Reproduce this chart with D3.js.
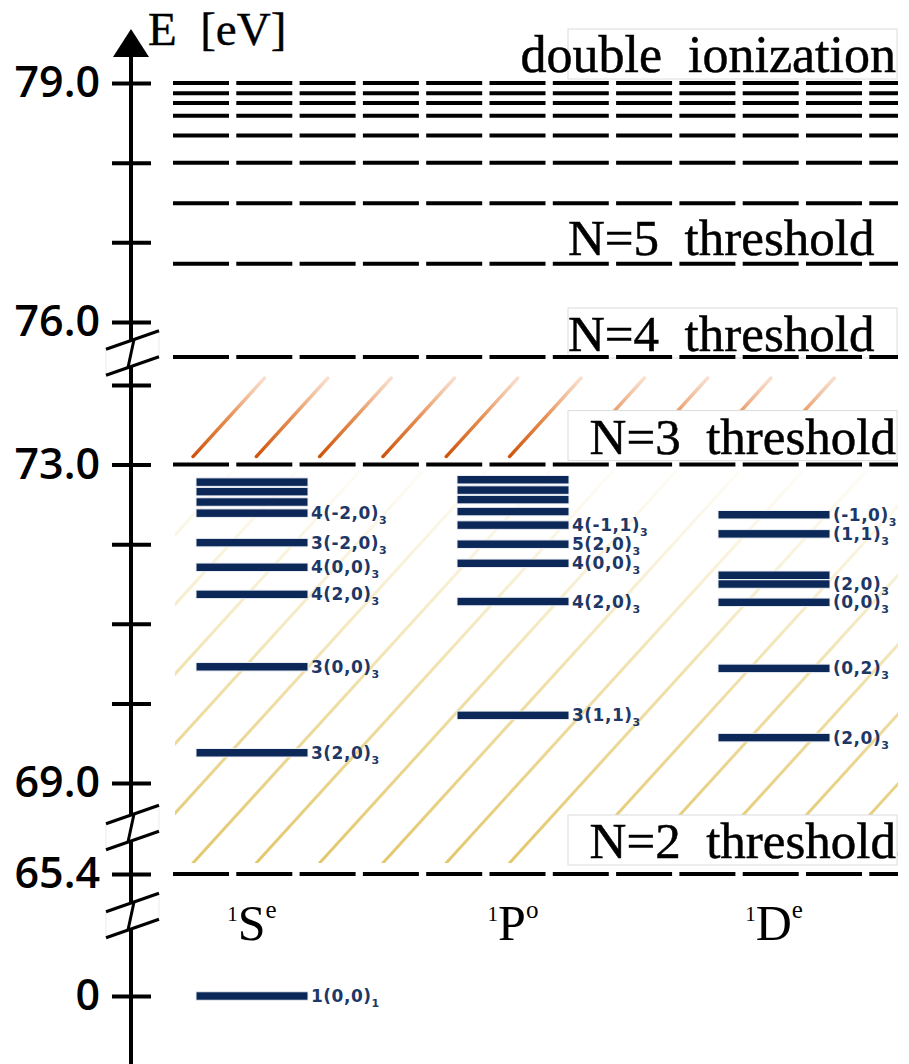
<!DOCTYPE html>
<html>
<head>
<meta charset="utf-8">
<script src="https://cdn.jsdelivr.net/npm/d3@7"></script>
<style>
  html, body { margin: 0; padding: 0; background: #ffffff; }
  svg { display: block; }
</style>
</head>
<body>
<svg id="chart" width="909" height="1064"></svg>
<script>
// ---- Data: doubly excited helium, energies in eV ----
const symmetryKeys = ["S", "P", "D"];
const termLetters  = ["S", "P", "D"];
const termParity   = ["e", "o", "e"];

// 1Se states
const energiesS = [0, 69.38, 70.46, 71.37, 71.71, 72.02, 72.39, 72.53, 72.66, 72.78];
const labelsS   = ["1(0,0)", "3(2,0)", "3(0,0)", "4(2,0)", "4(0,0)", "3(-2,0)", "4(-2,0)", "", "", ""];
const subsS     = ["1", "3", "3", "3", "3", "3", "3", "", "", ""];

// 1Po states
const energiesP = [69.85, 71.28, 71.76, 72.00, 72.24, 72.41, 72.56, 72.68, 72.81];
const labelsP   = ["3(1,1)", "4(2,0)", "4(0,0)", "5(2,0)", "4(-1,1)", "", "", "", ""];
const subsP     = ["3", "3", "3", "3", "3", "", "", "", ""];

// 1De states
const energiesD = [69.57, 70.44, 71.27, 71.50, 71.61, 72.13, 72.37];
const labelsD   = ["(2,0)", "(0,2)", "(0,0)", "(2,0)", "", "(1,1)", "(-1,0)"];
const subsD     = ["3", "3", "3", "3", "", "3", "3"];

// He+ (N) thresholds and the levels converging on double ionization
const thresholdEnergies = [65.4, 73.0, 75.6, 76.73, 77.49, 78.0, 78.34, 78.59, 78.75, 78.87, 79.0];
const thresholdNames    = ["N=2\u00A0\u00A0threshold", "N=3\u00A0\u00A0threshold", "N=4\u00A0\u00A0threshold",
                           "N=5\u00A0\u00A0threshold", "double\u00A0\u00A0ionization"];
const thresholdNameEnergies = [65.4, 73.0, 75.6, 76.73, 79.0];

// Energy axis
const tickValues  = [0, 65.4, 69, 70, 71, 72, 73, 74, 76, 77, 78, 79];
const tickLabels  = ["0", "65.4", "69.0", "", "", "", "73.0", "", "76.0", "", "", "79.0"];

// ---- Layout ----
const svg = d3.select("#chart");
const axisX = 131;

// Broken energy axis: piecewise-linear scale
const y = d3.scaleLinear()
  .domain([0, 65.4, 69, 74, 75.6, 76, 79])
  .range([996, 874, 783, 385, 357, 322, 83]);

const x = d3.scalePoint().domain(symmetryKeys).range([252, 774]);
const barWidth = 112;

const lineLeft = 173, lineRight = 898;

// ---- Gradients and clips for the continuum hatching ----
const defs = svg.append("defs");

const yellowBottom = y(65.4) - 11, yellowTop = y(73.0) + 6;
const orangeBottom = y(73.0) - 8,  orangeTop = y(75.6) + 21;

const gy = defs.append("linearGradient").attr("id", "gradYellow")
  .attr("gradientUnits", "userSpaceOnUse")
  .attr("x1", 0).attr("y1", yellowBottom).attr("x2", 0).attr("y2", yellowTop);
gy.append("stop").attr("offset", 0).attr("stop-color", "#e2c464").attr("stop-opacity", 0.95);
gy.append("stop").attr("offset", 0.5).attr("stop-color", "#e9d283").attr("stop-opacity", 0.65);
gy.append("stop").attr("offset", 1).attr("stop-color", "#f2e4ae").attr("stop-opacity", 0.12);

const go = defs.append("linearGradient").attr("id", "gradOrange")
  .attr("gradientUnits", "userSpaceOnUse")
  .attr("x1", 0).attr("y1", orangeBottom).attr("x2", 0).attr("y2", orangeTop);
go.append("stop").attr("offset", 0).attr("stop-color", "#d0520a").attr("stop-opacity", 1);
go.append("stop").attr("offset", 0.5).attr("stop-color", "#e3823f").attr("stop-opacity", 0.9);
go.append("stop").attr("offset", 1).attr("stop-color", "#f3c5a5").attr("stop-opacity", 0.55);

defs.append("clipPath").attr("id", "clipYellow").append("rect")
  .attr("x", 175).attr("y", yellowTop).attr("width", lineRight - 175).attr("height", yellowBottom - yellowTop);
defs.append("clipPath").attr("id", "clipOrange").append("rect")
  .attr("x", 190).attr("y", orangeTop - 2).attr("width", lineRight - 190).attr("height", orangeBottom - orangeTop + 4);

const hatchStep = 63.3, hatchSlant = 0.91, hatchStart = 193;

function hatch(ks, yb, yt, grad, clip, width) {
  svg.append("g").attr("clip-path", `url(#${clip})`)
    .selectAll("line").data(ks).join("line")
    .attr("x1", k => hatchStart + k * hatchStep)
    .attr("y1", yb)
    .attr("x2", k => hatchStart + k * hatchStep + hatchSlant * (yb - yt))
    .attr("y2", yt)
    .attr("stroke", `url(#${grad})`)
    .attr("stroke-width", width)
    .attr("stroke-linecap", "round");
}
hatch(d3.range(-7, 12), yellowBottom, yellowTop, "gradYellow", "clipYellow", 3);
hatch(d3.range(0, 10), orangeBottom, orangeTop, "gradOrange", "clipOrange", 3.4);

// ---- Threshold labels (white boxes) ----
const serif = "'Liberation Serif', 'Times New Roman', serif";
const nameLayout = [
  { anchor: "end",   x: 896, dy: -16, box: true },
  { anchor: "end",   x: 896, dy: -11, box: true },
  { anchor: "start", x: 568, dy: -6,  box: true },
  { anchor: "start", x: 568, dy: -9,  box: false },
  { anchor: "end",   x: 896, dy: -11, box: true }
];

const nameG = svg.append("g");
thresholdNames.forEach((t, i) => {
  const L = nameLayout[i];
  const base = y(thresholdNameEnergies[i]) + L.dy;
  if (L.box) {
    nameG.append("rect")
      .attr("x", 568).attr("y", base - 43).attr("width", 329).attr("height", 50)
      .attr("fill", "#ffffff").attr("stroke", "#dcdcdc").attr("stroke-width", 1);
  }
  nameG.append("text")
    .attr("x", L.x).attr("y", base)
    .attr("text-anchor", L.anchor)
    .attr("font-family", serif)
    .attr("font-size", i === 4 ? 52 : 51)
    .attr("fill", "#000").attr("stroke", "#000").attr("stroke-width", 0.5)
    .text(t);
});

// ---- Dashed threshold lines ----
svg.append("g").selectAll("line").data(thresholdEnergies).join("line")
  .attr("x1", lineLeft).attr("x2", lineRight)
  .attr("y1", d => y(d)).attr("y2", d => y(d))
  .attr("stroke", "#000").attr("stroke-width", 4)
  .attr("stroke-dasharray", "56,7.3");

// ---- Energy axis ----
const axisG = svg.append("g").attr("transform", `translate(${axisX},0)`);
axisG.append("line").attr("x1", 0).attr("x2", 0).attr("y1", 55).attr("y2", 1064)
  .attr("stroke", "#000").attr("stroke-width", 4);
axisG.append("path").attr("d", "M0,29 L-18,57 L18,57 Z").attr("fill", "#000");

const yAxis = d3.axisLeft(y)
  .tickValues(tickValues)
  .tickSizeInner(19).tickSizeOuter(0).tickPadding(12)
  .tickFormat((d, i) => tickLabels[i]);
const ax = axisG.append("g").call(yAxis);
ax.select(".domain").remove();
ax.selectAll(".tick line").attr("x1", 20).attr("stroke", "#000").attr("stroke-width", 4);
ax.selectAll(".tick text")
  .attr("font-family", "'Open Sans', 'DejaVu Sans', sans-serif")
  .attr("font-weight", 600)
  .attr("font-size", 43).attr("fill", "#000");

// Axis breaks
const breakCenters = [(y(74) + y(76)) / 2, y(65.4) - 46, y(65.4) + 42];
const slant = 0.35, half = 13, bx0 = 106, bx1 = 159;
const brkY = (c, xx, s) => c + s * half - slant * (xx - axisX);
breakCenters.forEach(c => {
  const g = svg.append("g");
  g.append("path")
    .attr("d", `M${bx0},${brkY(c, bx0, -1)} L${bx1},${brkY(c, bx1, -1)} L${bx1},${brkY(c, bx1, 1)} L${bx0},${brkY(c, bx0, 1)} Z`)
    .attr("fill", "#fff").attr("stroke", "#e6e6e6").attr("stroke-width", 0.8);
  [-1, 1].forEach(s => {
    g.append("line")
      .attr("x1", bx0).attr("y1", brkY(c, bx0, s))
      .attr("x2", bx1).attr("y2", brkY(c, bx1, s))
      .attr("stroke", "#000").attr("stroke-width", 3.2);
  });
  g.append("line")
    .attr("x1", axisX + 3).attr("y1", brkY(c, axisX + 3, -1))
    .attr("x2", axisX - 3).attr("y2", brkY(c, axisX - 3, 1))
    .attr("stroke", "#000").attr("stroke-width", 3);
});

// "E [eV]"
svg.append("text").attr("x", 148).attr("y", 45)
  .attr("font-family", serif)
  .attr("font-size", 47).attr("fill", "#000").attr("stroke", "#000").attr("stroke-width", 0.4)
  .text("E\u00A0\u00A0[eV]");

// ---- State bars ----
const stateSets = [
  { key: "S", e: energiesS, l: labelsS, s: subsS },
  { key: "P", e: energiesP, l: labelsP, s: subsP },
  { key: "D", e: energiesD, l: labelsD, s: subsD }
];
const barColor = "#0b2858", labelColor = "#1d3766";
const barH = 8.5;

stateSets.forEach(set => {
  const cx = x(set.key);
  const rows = set.e.map((e, i) => ({ e, label: set.l[i], sub: set.s[i] }));
  const g = svg.append("g");
  g.selectAll("rect").data(rows).join("rect")
    .attr("x", cx - barWidth / 2).attr("width", barWidth)
    .attr("y", d => y(d.e) - barH / 2).attr("height", barH)
    .attr("fill", barColor).attr("stroke", "#eef1f6").attr("stroke-width", 1);
  const t = g.selectAll("text").data(rows.filter(d => d.label)).join("text")
    .attr("x", cx + barWidth / 2 + 3)
    .attr("y", d => y(d.e) + 6)
    .attr("font-family", "'DejaVu Sans', sans-serif")
    .attr("font-weight", "bold")
    .attr("font-size", 17)
    .attr("letter-spacing", 0.5)
    .attr("fill", labelColor);
  t.append("tspan").text(d => d.label);
  t.append("tspan").attr("font-size", 11).attr("dy", 5).text(d => d.sub);
});

// ---- Term symbols ----
symmetryKeys.forEach((k, i) => {
  const t = svg.append("text")
    .attr("x", x(k)).attr("y", 940)
    .attr("text-anchor", "middle")
    .attr("font-family", serif)
    .attr("fill", "#000");
  t.append("tspan").attr("font-size", 21).attr("dy", -19).text("1");
  t.append("tspan").attr("font-size", 50).attr("dy", 19).text(termLetters[i]);
  t.append("tspan").attr("font-size", 25).attr("dy", -22).text(termParity[i]);
});
</script>
</body>
</html>
